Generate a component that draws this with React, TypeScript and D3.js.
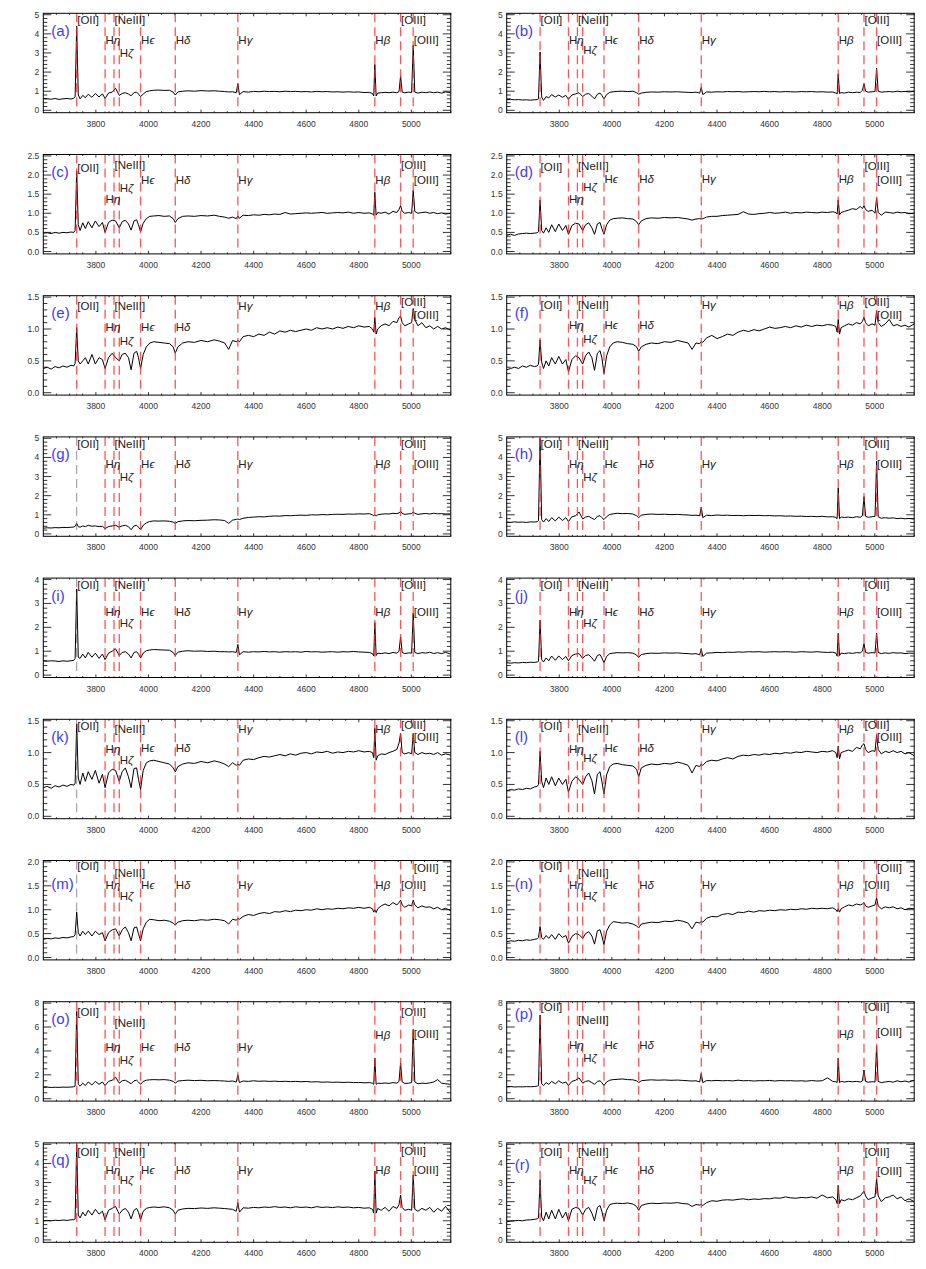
import React from 'react';
import * as d3 from 'd3';

// rest-frame wavelength grid (Angstrom) shared by every spectrum
const WAVE = [
  3600, 3615, 3630, 3645, 3660, 3675, 3690, 3705, 3716, 3721,
  3727, 3733, 3740, 3750, 3760, 3771, 3785, 3798, 3812, 3825,
  3835, 3848, 3862, 3875, 3889, 3900, 3912, 3924, 3934, 3945, 3955, 3962, 3970, 3980, 3992,
  4005, 4020, 4040, 4060, 4080, 4094, 4102, 4112, 4130, 4150, 4175, 4200, 4225, 4250, 4270, 4290, 4305, 4320, 4334,
  4340, 4346, 4360, 4380, 4400, 4420, 4440, 4460, 4480, 4500, 4520, 4540, 4560, 4580, 4600, 4620, 4640, 4660, 4680, 4700, 4720, 4740, 4760, 4780, 4800, 4820, 4840,
  4852, 4857, 4861, 4866, 4872, 4885, 4900, 4915, 4930, 4945, 4953, 4959, 4965, 4975, 4990, 5001, 5007, 5013, 5025, 5040, 5055, 5070, 5085, 5100, 5115, 5130, 5150,
];

const FLUX_A = [
  0.62, 0.60, 0.58, 0.62, 0.57, 0.60, 0.62, 0.59, 0.63, 0.70,
  4.40, 0.80, 0.60, 0.78, 0.66, 0.84, 0.68, 0.88, 0.70, 0.86,
  0.62, 0.90, 0.95, 1.15, 0.78, 0.88, 0.92, 0.85, 0.76, 0.92, 0.95, 0.85, 0.72, 0.85, 0.98,
  1.02, 1.05, 1.06, 1.04, 1.05, 0.95, 0.80, 0.96, 1.00, 1.02, 1.00, 1.03, 1.01, 1.02, 1.00, 0.98, 0.96, 0.97, 0.92,
  1.40, 0.82, 0.98, 0.95, 0.99, 0.97, 1.00, 0.98, 0.99, 0.97, 1.00, 0.98, 0.99, 0.97, 0.98, 0.96, 0.99, 0.97, 0.98, 0.96, 0.97, 0.95, 0.97, 0.95, 0.96, 0.93, 0.94,
  0.88, 0.75, 2.40, 0.75, 0.90, 0.92, 0.94, 0.92, 0.95, 0.92, 0.98, 1.80, 0.95, 0.92, 0.95, 0.93, 3.40, 0.95, 0.90, 0.95, 0.92, 0.96, 0.92, 0.95, 0.90, 0.96, 0.92,
];
const FLUX_B = [
  0.55, 0.57, 0.55, 0.56, 0.54, 0.55, 0.53, 0.55, 0.56, 0.60,
  3.05, 0.70, 0.52, 0.72, 0.65, 0.82, 0.70, 0.80, 0.68, 0.78,
  0.58, 0.80, 0.86, 0.92, 0.72, 0.84, 0.88, 0.74, 0.60, 0.84, 0.90, 0.78, 0.60, 0.82, 0.94,
  0.97, 0.99, 1.00, 0.98, 1.00, 0.92, 0.85, 0.90, 0.94, 0.96, 0.95, 0.97, 0.96, 0.97, 0.95, 0.94, 0.93, 0.95, 0.90,
  1.20, 0.82, 0.96, 0.95, 0.97, 0.96, 0.98, 0.97, 0.98, 0.96, 0.97, 0.98, 0.97, 0.99, 0.97, 0.98, 0.96, 0.98, 0.97, 0.96, 0.98, 0.97, 0.98, 0.96, 0.97, 0.95, 0.96,
  0.90, 0.85, 1.90, 0.88, 0.93, 0.90, 0.95, 0.92, 0.95, 0.93, 1.05, 1.40, 1.00, 0.95, 0.97, 0.98, 2.20, 1.00, 0.95, 0.97, 0.98, 0.96, 1.00, 0.97, 0.99, 0.96, 1.00,
];
const FLUX_C = [
  0.48, 0.49, 0.47, 0.50, 0.48, 0.50, 0.49, 0.51, 0.50, 0.55,
  2.10, 0.70, 0.55, 0.75, 0.60, 0.78, 0.62, 0.80, 0.65, 0.76,
  0.50, 0.76, 0.82, 0.80, 0.62, 0.78, 0.82, 0.72, 0.56, 0.80, 0.83, 0.70, 0.52, 0.74, 0.86,
  0.92, 0.93, 0.94, 0.92, 0.93, 0.86, 0.76, 0.86, 0.92, 0.93, 0.92, 0.94, 0.93, 0.95, 0.92, 0.90, 0.87, 0.90, 0.86,
  0.93, 0.87, 0.95, 0.94, 0.96, 0.95, 0.97, 0.96, 0.98, 0.97, 1.02, 0.98, 0.99, 1.00, 1.01, 1.00, 1.01, 1.02, 1.00, 1.01, 1.02, 1.01, 1.03, 1.00, 1.02, 1.00, 1.01,
  0.98, 0.95, 1.55, 0.95, 1.02, 1.00, 1.03, 0.98, 1.05, 1.02, 1.10, 1.20, 1.05, 1.00, 1.02, 1.00, 1.60, 1.05, 1.00, 1.02, 1.03, 1.00, 1.02, 0.99, 1.01, 0.98, 1.00,
];
const FLUX_D = [
  0.43, 0.45, 0.42, 0.46, 0.47, 0.48, 0.47, 0.48, 0.49, 0.52,
  1.35, 0.55, 0.48, 0.62, 0.50, 0.70, 0.52, 0.72, 0.55, 0.68,
  0.45, 0.68, 0.74, 0.72, 0.55, 0.70, 0.75, 0.62, 0.45, 0.72, 0.76, 0.60, 0.45, 0.70, 0.82,
  0.86, 0.87, 0.88, 0.86, 0.85, 0.78, 0.70, 0.80, 0.86, 0.88, 0.87, 0.89, 0.88, 0.89, 0.87, 0.85, 0.82, 0.85, 0.86,
  0.85, 0.86, 0.90, 0.92, 0.92, 0.94, 0.95, 0.96, 0.97, 1.04, 0.98, 0.97, 0.99, 1.00, 1.02, 1.00, 1.01, 1.03, 1.00, 1.02, 1.01, 1.03, 1.02, 1.01, 1.03, 1.02, 1.04,
  1.02, 0.98, 1.35, 0.96, 1.02, 1.05, 1.08, 1.12, 1.10, 1.18, 1.12, 1.20, 1.10, 1.05, 1.08, 1.00, 1.40, 1.02, 0.95, 1.03, 1.02, 1.00, 1.03, 1.01, 1.02, 0.99, 1.00,
];
const FLUX_E = [
  0.38, 0.40, 0.37, 0.41, 0.39, 0.42, 0.40, 0.43, 0.42, 0.46,
  1.02, 0.50, 0.45, 0.50, 0.55, 0.45, 0.60, 0.45, 0.55, 0.52,
  0.38, 0.55, 0.62, 0.55, 0.50, 0.60, 0.62, 0.55, 0.36, 0.62, 0.65, 0.55, 0.38, 0.60, 0.72,
  0.78, 0.80, 0.79, 0.78, 0.77, 0.72, 0.62, 0.72, 0.78, 0.80, 0.79, 0.82, 0.80, 0.83, 0.81, 0.78, 0.68, 0.82, 0.80,
  0.82, 0.80, 0.88, 0.90, 0.88, 0.92, 0.90, 0.95, 0.92, 0.97, 0.95, 0.98, 0.96, 0.98, 1.00, 0.98, 1.02, 1.00, 1.02, 1.00, 1.03, 1.01, 1.04, 1.02, 1.05, 1.03, 1.04,
  1.00, 0.95, 1.18, 0.92, 1.00, 1.05, 1.08, 1.05, 1.12, 1.10, 1.18, 1.20, 1.10, 1.05, 1.08, 1.10, 1.32, 1.15, 1.05, 1.10, 1.02, 1.05, 1.00, 1.04, 1.00, 1.02, 0.98,
];
const FLUX_F = [
  0.36, 0.38, 0.40, 0.38, 0.42, 0.40, 0.43, 0.41, 0.42, 0.45,
  0.83, 0.48, 0.38, 0.50, 0.42, 0.55, 0.45, 0.57, 0.45, 0.52,
  0.33, 0.52, 0.58, 0.55, 0.45, 0.58, 0.64, 0.55, 0.35, 0.62, 0.66, 0.55, 0.30, 0.58, 0.72,
  0.78, 0.80, 0.79, 0.77, 0.76, 0.72, 0.65, 0.72, 0.76, 0.78, 0.77, 0.80, 0.79, 0.82, 0.80, 0.78, 0.68, 0.78, 0.77,
  0.80, 0.79, 0.86, 0.90, 0.85, 0.88, 0.92, 0.90, 0.95, 0.98, 0.96, 0.99, 0.97, 1.00, 1.03, 1.01, 1.02, 1.04, 1.02, 1.05, 1.03, 1.06, 1.04, 1.06, 1.05, 1.07, 1.06,
  1.04, 0.95, 1.15, 0.92, 1.02, 1.05, 1.08, 1.06, 1.10, 1.08, 1.12, 1.18, 1.10, 1.05, 1.08, 1.06, 1.28, 1.10, 1.04, 1.08, 1.15, 1.05, 1.07, 1.04, 1.06, 1.03, 1.08,
];
const FLUX_G = [
  0.30, 0.32, 0.31, 0.33, 0.32, 0.34, 0.33, 0.35, 0.36, 0.40,
  0.55, 0.38, 0.35, 0.42, 0.38, 0.45, 0.40, 0.42, 0.38, 0.40,
  0.28, 0.38, 0.42, 0.45, 0.35, 0.42, 0.45, 0.38, 0.22, 0.42, 0.45, 0.35, 0.22, 0.45, 0.58,
  0.65, 0.68, 0.67, 0.68, 0.66, 0.62, 0.55, 0.64, 0.68, 0.70, 0.69, 0.71, 0.72, 0.74, 0.73, 0.70, 0.55, 0.72, 0.76,
  0.78, 0.75, 0.82, 0.86, 0.88, 0.90, 0.89, 0.92, 0.94, 0.93, 0.96, 0.95, 0.97, 0.98, 0.97, 1.00, 0.99, 1.01, 1.00, 1.02, 1.03, 1.02, 1.04, 1.03, 1.05, 1.04, 1.06,
  1.00, 0.95, 1.00, 0.94, 1.00, 1.03, 1.05, 1.04, 1.08, 1.06, 1.10, 1.18, 1.08, 1.02, 1.05, 1.06, 1.15, 1.08, 1.02, 1.05, 1.07, 1.04, 1.08, 1.05, 1.06, 1.04, 1.05,
];
const FLUX_H = [
  0.62, 0.60, 0.63, 0.61, 0.62, 0.60, 0.63, 0.62, 0.64, 0.70,
  5.00, 0.75, 0.62, 0.80, 0.65, 0.85, 0.68, 0.88, 0.70, 0.85,
  0.65, 0.90, 0.95, 1.15, 0.78, 0.88, 0.92, 0.82, 0.75, 0.92, 0.95, 0.85, 0.75, 0.90, 1.02,
  1.05, 1.08, 1.06, 1.07, 1.04, 0.95, 0.85, 0.98, 1.02, 1.04, 1.02, 1.03, 1.01, 1.02, 1.00, 0.99, 0.97, 0.98, 0.95,
  1.40, 0.85, 0.98, 0.96, 0.99, 0.97, 0.98, 0.96, 0.97, 0.95, 0.97, 0.96, 0.97, 0.95, 0.96, 0.94, 0.95, 0.93, 0.94, 0.92, 0.93, 0.91, 0.92, 0.90, 0.92, 0.89, 0.90,
  0.86, 0.80, 2.40, 0.80, 0.88, 0.86, 0.88, 0.85, 0.90, 0.87, 0.95, 1.95, 0.92, 0.87, 0.90, 0.92, 3.80, 0.90, 0.82, 0.85, 0.82, 0.84, 0.80, 0.82, 0.79, 0.81, 0.78,
];
const FLUX_I = [
  0.60, 0.58, 0.60, 0.59, 0.57, 0.60, 0.58, 0.60, 0.62, 0.70,
  3.60, 0.75, 0.70, 0.88, 0.72, 0.95, 0.75, 0.92, 0.70, 0.88,
  0.65, 0.92, 1.00, 1.10, 0.82, 0.95, 0.98, 0.88, 0.72, 0.95, 0.98, 0.88, 0.72, 0.92, 1.02,
  1.05, 1.07, 1.06, 1.05, 1.04, 0.95, 0.82, 0.96, 1.00, 1.02, 1.00, 1.01, 0.99, 1.00, 0.98, 0.98, 0.97, 0.98, 0.95,
  1.28, 0.85, 0.98, 0.96, 0.98, 0.97, 0.99, 0.97, 0.98, 0.96, 0.98, 0.97, 0.98, 0.96, 0.99, 0.97, 0.98, 0.96, 0.97, 0.98, 0.96, 0.98, 0.97, 0.99, 0.97, 0.96, 0.95,
  0.90, 0.80, 2.20, 0.82, 0.92, 0.90, 0.93, 0.90, 0.95, 0.92, 1.00, 1.60, 0.95, 0.90, 0.93, 0.92, 2.60, 0.95, 0.90, 0.94, 0.92, 0.96, 0.90, 0.94, 0.90, 0.95, 0.88,
];
const FLUX_J = [
  0.52, 0.50, 0.52, 0.51, 0.53, 0.52, 0.54, 0.53, 0.55, 0.58,
  2.30, 0.65, 0.55, 0.72, 0.60, 0.80, 0.62, 0.80, 0.65, 0.78,
  0.60, 0.82, 0.88, 0.90, 0.70, 0.82, 0.85, 0.72, 0.58, 0.82, 0.86, 0.72, 0.52, 0.78, 0.90,
  0.92, 0.94, 0.93, 0.94, 0.92, 0.84, 0.74, 0.86, 0.90, 0.92, 0.91, 0.93, 0.92, 0.93, 0.91, 0.90, 0.88, 0.90, 0.85,
  1.10, 0.78, 0.92, 0.93, 0.95, 0.94, 0.96, 0.95, 0.97, 0.96, 0.98, 0.97, 0.98, 0.96, 0.97, 0.98, 0.97, 0.98, 0.97, 0.96, 0.98, 0.97, 0.96, 0.98, 0.96, 0.95, 0.96,
  0.92, 0.80, 1.75, 0.82, 0.92, 0.90, 0.93, 0.91, 0.94, 0.93, 1.00, 1.32, 0.95, 0.92, 0.94, 0.93, 1.75, 0.95, 0.90, 0.93, 0.91, 0.94, 0.92, 0.93, 0.90, 0.92, 0.91,
];
const FLUX_K = [
  0.45, 0.47, 0.44, 0.48, 0.46, 0.49, 0.47, 0.50, 0.49, 0.52,
  1.45, 0.60, 0.50, 0.68, 0.55, 0.70, 0.58, 0.72, 0.52, 0.66,
  0.45, 0.68, 0.74, 0.72, 0.55, 0.70, 0.76, 0.62, 0.45, 0.75, 0.76, 0.58, 0.42, 0.72, 0.84,
  0.87, 0.88, 0.86, 0.84, 0.82, 0.76, 0.70, 0.78, 0.82, 0.84, 0.83, 0.86, 0.84, 0.87, 0.85, 0.82, 0.78, 0.84, 0.80,
  0.82, 0.80, 0.88, 0.90, 0.89, 0.92, 0.94, 0.93, 0.95, 0.97, 0.95, 0.98, 0.96, 0.99, 1.00, 0.98, 1.01, 1.00, 1.02, 0.99, 1.01, 1.00, 1.02, 1.01, 1.03, 1.01, 1.02,
  1.00, 0.92, 1.38, 0.88, 0.95, 0.98, 0.97, 1.00, 1.02, 1.05, 1.15, 1.30, 1.00, 0.98, 1.00, 0.98, 1.30, 1.00, 0.97, 1.00, 0.98, 0.99, 0.97, 1.00, 0.96, 0.98, 0.96,
];
const FLUX_L = [
  0.40, 0.42, 0.41, 0.43, 0.42, 0.44, 0.43, 0.46, 0.47, 0.50,
  1.02, 0.55, 0.45, 0.60, 0.50, 0.62, 0.48, 0.60, 0.50, 0.58,
  0.38, 0.55, 0.62, 0.58, 0.50, 0.62, 0.68, 0.56, 0.35, 0.66, 0.70, 0.55, 0.35, 0.65, 0.78,
  0.82, 0.83, 0.81, 0.80, 0.79, 0.74, 0.62, 0.76, 0.80, 0.82, 0.81, 0.83, 0.82, 0.85, 0.83, 0.80, 0.68, 0.80, 0.78,
  0.82, 0.80, 0.86, 0.88, 0.87, 0.90, 0.92, 0.90, 0.94, 0.96, 0.95, 0.97, 0.96, 0.98, 0.97, 0.99, 0.98, 1.00, 0.99, 1.01, 1.00, 1.02, 1.01, 1.00, 1.02, 1.01, 1.03,
  1.00, 0.92, 1.10, 0.90, 1.00, 1.02, 1.04, 1.02, 1.08, 1.06, 1.12, 1.14, 1.05, 1.00, 1.03, 1.02, 1.28, 1.05, 0.98, 1.02, 1.00, 1.03, 1.00, 1.02, 0.98, 1.00, 0.95,
];
const FLUX_M = [
  0.38, 0.40, 0.39, 0.41, 0.40, 0.42, 0.41, 0.43, 0.44, 0.48,
  0.95, 0.52, 0.45, 0.55, 0.48, 0.55, 0.45, 0.55, 0.48, 0.52,
  0.35, 0.52, 0.58, 0.60, 0.45, 0.58, 0.64, 0.52, 0.35, 0.62, 0.64, 0.50, 0.35, 0.60, 0.74,
  0.80, 0.79, 0.77, 0.78, 0.76, 0.72, 0.68, 0.74, 0.77, 0.78, 0.77, 0.79, 0.78, 0.80, 0.79, 0.77, 0.70, 0.80, 0.78,
  0.82, 0.80, 0.86, 0.90, 0.88, 0.92, 0.94, 0.92, 0.96, 0.95, 0.98, 0.96, 0.99, 0.98, 1.00, 0.99, 1.02, 1.00, 1.02, 1.01, 1.03, 1.02, 1.04, 1.03, 1.05, 1.03, 1.05,
  1.02, 0.95, 1.00, 0.94, 1.02, 1.08, 1.12, 1.08, 1.15, 1.10, 1.15, 1.20, 1.10, 1.05, 1.10, 1.08, 1.20, 1.10, 1.04, 1.08, 1.05, 1.06, 1.02, 1.05, 1.00, 1.03, 0.98,
];
const FLUX_N = [
  0.33, 0.35, 0.34, 0.36, 0.35, 0.37, 0.36, 0.38, 0.39, 0.42,
  0.65, 0.42, 0.38, 0.46, 0.40, 0.48, 0.38, 0.50, 0.42, 0.46,
  0.30, 0.44, 0.50, 0.48, 0.40, 0.50, 0.54, 0.45, 0.28, 0.56, 0.58, 0.45, 0.27, 0.55, 0.68,
  0.75, 0.74, 0.72, 0.73, 0.70, 0.66, 0.62, 0.70, 0.72, 0.74, 0.73, 0.76, 0.75, 0.78, 0.76, 0.72, 0.60, 0.74, 0.72,
  0.76, 0.74, 0.82, 0.86, 0.85, 0.90, 0.92, 0.90, 0.95, 0.94, 0.97, 0.95, 0.98, 0.97, 0.99, 0.98, 1.00, 0.99, 1.01, 1.00, 1.02, 1.01, 1.03, 1.02, 1.03, 1.02, 1.04,
  1.00, 0.96, 1.02, 0.95, 1.02, 1.06, 1.10, 1.08, 1.12, 1.10, 1.12, 1.15, 1.08, 1.05, 1.08, 1.10, 1.25, 1.08, 1.02, 1.06, 1.04, 1.06, 1.02, 1.04, 1.00, 1.03, 1.02,
];
const FLUX_O = [
  0.95, 0.97, 0.94, 0.96, 0.95, 0.97, 0.96, 0.98, 1.00, 1.05,
  7.30, 1.20, 1.05, 1.30, 1.10, 1.40, 1.15, 1.45, 1.20, 1.40,
  1.10, 1.45, 1.55, 1.80, 1.30, 1.50, 1.55, 1.40, 1.25, 1.50, 1.55, 1.40, 1.20, 1.45, 1.55,
  1.58, 1.60, 1.58, 1.60, 1.55, 1.45, 1.30, 1.48, 1.52, 1.55, 1.52, 1.54, 1.50, 1.52, 1.50, 1.48, 1.45, 1.48, 1.40,
  2.00, 1.35, 1.48, 1.45, 1.50, 1.46, 1.48, 1.45, 1.47, 1.44, 1.46, 1.43, 1.45, 1.42, 1.44, 1.40, 1.42, 1.38, 1.40, 1.37, 1.39, 1.36, 1.38, 1.35, 1.36, 1.33, 1.35,
  1.30, 1.20, 3.40, 1.20, 1.30, 1.28, 1.32, 1.28, 1.35, 1.30, 1.45, 3.00, 1.40, 1.28, 1.30, 1.35, 5.80, 1.40, 1.25, 1.30, 1.28, 1.32, 1.40, 1.60, 1.30, 1.25, 1.20,
];
const FLUX_P = [
  1.00, 1.02, 0.98, 1.00, 0.99, 1.01, 1.00, 1.02, 1.05, 1.10,
  7.00, 1.25, 1.10, 1.35, 1.20, 1.45, 1.25, 1.50, 1.30, 1.40,
  1.10, 1.45, 1.55, 1.75, 1.30, 1.45, 1.50, 1.35, 1.20, 1.45, 1.50, 1.35, 1.10, 1.40, 1.55,
  1.60, 1.62, 1.65, 1.60, 1.58, 1.50, 1.35, 1.50, 1.55, 1.58, 1.55, 1.57, 1.54, 1.56, 1.53, 1.50, 1.48, 1.50, 1.40,
  2.10, 1.35, 1.52, 1.50, 1.53, 1.50, 1.52, 1.49, 1.55, 1.50, 1.52, 1.48, 1.51, 1.50, 1.53, 1.48, 1.52, 1.50, 1.51, 1.48, 1.50, 1.47, 1.52, 1.48, 1.50, 1.75, 1.45,
  1.42, 1.35, 3.40, 1.35, 1.45, 1.40, 1.45, 1.42, 1.45, 1.40, 1.50, 2.40, 1.45, 1.38, 1.42, 1.40, 4.40, 1.45, 1.35, 1.40, 1.45, 1.38, 1.50, 1.42, 1.48, 1.40, 1.55,
];
const FLUX_Q = [
  1.00, 1.02, 1.00, 1.03, 1.01, 1.04, 1.02, 1.05, 1.06, 1.10,
  5.00, 1.30, 1.15, 1.45, 1.25, 1.55, 1.30, 1.60, 1.35, 1.50,
  1.05, 1.55, 1.65, 1.75, 1.35, 1.55, 1.65, 1.45, 1.10, 1.55, 1.65, 1.45, 1.05, 1.50, 1.65,
  1.70, 1.72, 1.70, 1.73, 1.68, 1.55, 1.35, 1.55, 1.62, 1.65, 1.64, 1.67, 1.65, 1.68, 1.66, 1.64, 1.62, 1.60, 1.50,
  1.95, 1.45, 1.68, 1.66, 1.70, 1.68, 1.72, 1.70, 1.74, 1.70, 1.72, 1.68, 1.73, 1.70, 1.72, 1.68, 1.74, 1.70, 1.72, 1.69, 1.73, 1.70, 1.72, 1.68, 1.70, 1.66, 1.68,
  1.60, 1.40, 3.60, 1.40, 1.65, 1.55, 1.70, 1.50, 1.75, 1.65, 1.85, 2.35, 1.70, 1.55, 1.60, 1.55, 3.40, 1.60, 1.50, 1.65, 1.55, 1.70, 1.45, 1.65, 1.50, 1.75, 1.40,
];
const FLUX_R = [
  0.95, 0.98, 1.00, 1.02, 1.00, 1.04, 1.05, 1.08, 1.10, 1.15,
  3.15, 1.20, 1.00, 1.45, 1.10, 1.55, 1.10, 1.60, 1.15, 1.45,
  1.00, 1.60, 1.70, 1.65, 1.30, 1.60, 1.70, 1.40, 1.00, 1.70, 1.80, 1.50, 1.00, 1.55, 1.85,
  1.90, 1.92, 1.90, 1.93, 1.88, 1.75, 1.55, 1.80, 1.88, 1.92, 1.90, 1.93, 1.92, 1.95, 1.90, 1.88, 1.75, 1.85, 1.82,
  1.85, 1.80, 1.95, 2.05, 2.02, 2.08, 2.10, 2.08, 2.12, 2.15, 2.10, 2.14, 2.12, 2.16, 2.15, 2.20, 2.18, 2.25, 2.20, 2.18, 2.22, 2.20, 2.25, 2.18, 2.35, 2.20, 2.25,
  2.10, 1.90, 2.85, 1.90, 2.10, 2.05, 2.15, 2.10, 2.20, 2.30, 2.45, 2.55, 2.30, 2.10, 2.20, 2.25, 3.20, 2.30, 2.00, 2.20, 2.25, 2.35, 2.15, 2.25, 2.05, 2.15, 2.00,
];

const PANEL_IDS = ['a', 'b', 'c', 'd', 'e', 'f', 'g', 'h', 'i', 'j', 'k', 'l', 'm', 'n', 'o', 'p', 'q', 'r'];
const FLUXES = [FLUX_A, FLUX_B, FLUX_C, FLUX_D, FLUX_E, FLUX_F, FLUX_G, FLUX_H, FLUX_I, FLUX_J, FLUX_K, FLUX_L, FLUX_M, FLUX_N, FLUX_O, FLUX_P, FLUX_Q, FLUX_R];
const Y_MAX = [5, 5, 2.5, 2.5, 1.5, 1.5, 5, 5, 4, 4, 1.5, 1.5, 2, 2, 8, 8, 5, 5];
const Y_STEP = [1, 1, 0.5, 0.5, 0.5, 0.5, 1, 1, 1, 1, 0.5, 0.5, 0.5, 0.5, 2, 2, 1, 1];

const LINE_WAVE = [3727, 3835, 3869, 3889, 3970, 4102, 4340, 4861, 4959, 5007];
// [prefix, greek suffix]
const LINE_NAME: [string, string][] = [
  ['[OII]', ''], ['H', 'η'], ['[NeIII]', ''], ['H', 'ζ'], ['H', 'ϵ'],
  ['H', 'δ'], ['H', 'γ'], ['H', 'β'], ['[OIII]', ''], ['[OIII]', ''],
];
const X_LABELS = [3800, 4000, 4200, 4400, 4600, 4800, 5000];

// vertical offset (px below the frame top) of every line label, per panel
const LABEL_DY: Record<string, number[]> = {
  a: [7, 27, 7, 40, 27, 27, 27, 27, 7, 27],
  b: [7, 27, 7, 37, 27, 27, 27, 27, 7, 27],
  c: [13, 44, 10, 33, 25, 25, 25, 25, 10, 25],
  d: [12, 44, 11, 32, 24, 24, 24, 24, 11, 25],
  e: [10, 31, 10, 45, 31, 31, 10, 10, 6, 19],
  f: [9, 29, 9, 43, 29, 29, 9, 9, 6, 19],
  g: [7, 27, 7, 40, 27, 27, 27, 27, 7, 27],
  h: [7, 27, 7, 40, 27, 27, 27, 27, 7, 27],
  i: [7, 34, 7, 45, 34, 34, 34, 34, 7, 34],
  j: [7, 34, 7, 45, 34, 34, 34, 34, 7, 34],
  k: [7, 30, 10, 41, 29, 29, 10, 10, 6, 18],
  l: [7, 30, 10, 39, 29, 29, 10, 10, 6, 18],
  m: [5, 24, 12, 35, 24, 24, 24, 24, 24, 7],
  n: [5, 24, 12, 35, 24, 24, 24, 24, 24, 7],
  o: [10, 45, 21, 58, 45, 45, 45, 33, 10, 32],
  p: [5, 43, 18, 56, 43, 43, 43, 32, 5, 30],
  q: [9, 27, 9, 37, 27, 27, 27, 27, 8, 27],
  r: [9, 27, 9, 37, 27, 27, 27, 27, 9, 28],
};
const TAG_DY: Record<string, number> = { m: 23, n: 23, p: 12, r: 22 };
const GREY_OII = ['g', 'i', 'k', 'm'];

const W = 926;
const H = 1269;
const COL_X = [43.3, 506.7];
const PW = 407.5;
const PH = 99.4;
const TOP0 = 13.3;
const ROW_STEP = 141.2;
const FONT = "'Liberation Sans', Arial, sans-serif";

function Panel({ idx }: { idx: number }) {
  const id = PANEL_IDS[idx];
  const flux = FLUXES[idx];
  const ymax = Y_MAX[idx];
  const step = Y_STEP[idx];
  const x0 = COL_X[idx % 2];
  const top = TOP0 + Math.floor(idx / 2) * ROW_STEP;
  const bottom = top + PH;

  const x = d3.scaleLinear().domain([3600, 5150]).range([x0, x0 + PW]);
  const y = d3.scaleLinear().domain([-0.025 * ymax, 1.015 * ymax]).range([bottom, top]);

  const path = d3.line<number>()
    .defined((d, i) => WAVE[i] !== undefined)
    .x((d, i) => x(WAVE[i]))
    .y((d) => y(d))(flux) || '';

  const fmt = step < 1 ? d3.format('.1f') : d3.format('d');
  const majorY = d3.range(0, ymax + step / 2, step);
  const minorStep = step === 2 ? 0.5 : step / 5;
  const minorY = d3.range(0, ymax + minorStep / 2, minorStep);
  const minorX = d3.range(3650, 5151, 50);
  const clipId = `clip-${id}`;

  return (
    <g>
      <defs>
        <clipPath id={clipId}>
          <rect x={x0} y={top} width={PW} height={PH} />
        </clipPath>
      </defs>
      <path d={path} fill="none" stroke="#000" strokeWidth={1} clipPath={`url(#${clipId})`} />
      {LINE_WAVE.map((w, i) => {
        const grey = i === 0 && GREY_OII.includes(id);
        return (
          <line
            key={`l${i}`}
            x1={x(w)} x2={x(w)} y1={top} y2={bottom}
            stroke={grey ? '#555' : '#ff2a2a'}
            strokeOpacity={0.8}
            strokeWidth={grey ? 0.8 : 1.3}
            strokeDasharray="9,5"
          />
        );
      })}
      <rect x={x0} y={top} width={PW} height={PH} fill="none" stroke="#000" strokeWidth={1} />
      {minorX.map((v) => {
        const major = v % 200 === 0;
        const len = major ? 3 : 1.5;
        return (
          <g key={`xt${v}`}>
            <line x1={x(v)} x2={x(v)} y1={bottom} y2={bottom - len} stroke="#000" strokeWidth={0.8} />
            <line x1={x(v)} x2={x(v)} y1={top} y2={top + len} stroke="#000" strokeWidth={0.8} />
          </g>
        );
      })}
      {minorY.map((v, i) => {
        const major = Math.abs(v / step - Math.round(v / step)) < 1e-6;
        const len = major ? 8 : 4;
        return (
          <g key={`yt${i}`}>
            <line x1={x0} x2={x0 + len} y1={y(v)} y2={y(v)} stroke="#000" strokeWidth={0.8} />
            <line x1={x0 + PW} x2={x0 + PW - len} y1={y(v)} y2={y(v)} stroke="#000" strokeWidth={0.8} />
          </g>
        );
      })}
      {X_LABELS.map((v) => (
        <text key={`xl${v}`} x={x(v)} y={bottom + 14} textAnchor="middle" fontSize={8.5} fill="#333" fontFamily={FONT}>
          {v}
        </text>
      ))}
      {majorY.map((v, i) => (
        <text key={`yl${i}`} x={x0 - 4} y={y(v) + 3} textAnchor="end" fontSize={8.5} fill="#333" fontFamily={FONT}>
          {fmt(v)}
        </text>
      ))}
      {LINE_WAVE.map((w, i) => (
        <text
          key={`n${i}`}
          x={x(w) + 0.5}
          y={top + LABEL_DY[id][i]}
          dominantBaseline="central"
          fontSize={11.5}
          fill="#222"
          fontFamily={FONT}
        >
          {LINE_NAME[i][0]}
          {LINE_NAME[i][1] && <tspan fontStyle="italic">{LINE_NAME[i][1]}</tspan>}
        </text>
      ))}
      <text
        x={x0 + 8}
        y={top + (TAG_DY[id] ?? 17)}
        dominantBaseline="central"
        fontSize={15}
        fill="#3a3aff"
        fontFamily={FONT}
      >
        ({id})
      </text>
    </g>
  );
}

export default function App() {
  return (
    <svg
      width={W}
      height={H}
      viewBox={`0 0 ${W} ${H}`}
      style={{ position: 'absolute', left: 0, top: 0, background: '#fff' }}
    >
      <rect x={0} y={0} width={W} height={H} fill="#fff" />
      {PANEL_IDS.map((_, i) => (
        <Panel key={i} idx={i} />
      ))}
    </svg>
  );
}
